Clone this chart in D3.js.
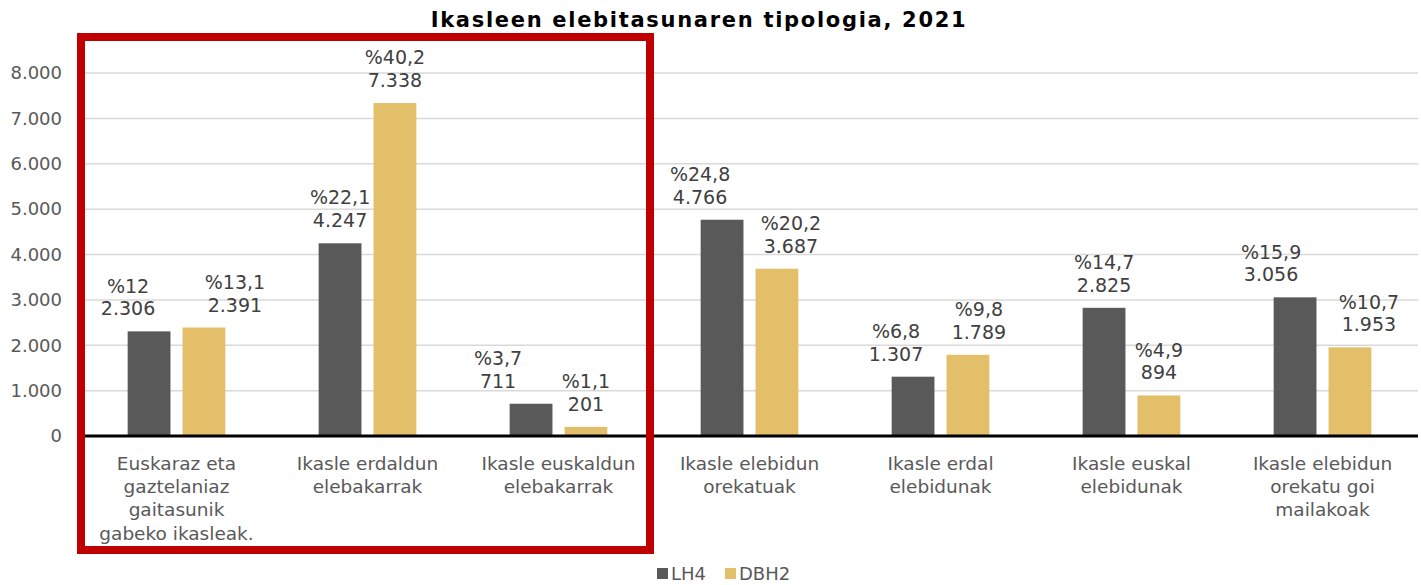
<!DOCTYPE html>
<html>
<head>
<meta charset="utf-8">
<script src="https://cdn.jsdelivr.net/npm/d3@7"></script>
<style>
  body { margin: 0; background: #fff; }
  svg { display: block; font-family: "DejaVu Sans", Verdana, sans-serif; }
</style>
</head>
<body>
<div id="chart"></div>
<script>
var categories = [
  "Euskaraz eta\ngaztelaniaz\ngaitasunik\ngabeko ikasleak.",
  "Ikasle erdaldun\nelebakarrak",
  "Ikasle euskaldun\nelebakarrak",
  "Ikasle elebidun\norekatuak",
  "Ikasle erdal\nelebidunak",
  "Ikasle euskal\nelebidunak",
  "Ikasle elebidun\norekatu goi\nmailakoak"
]
var seriesNames = ["LH4", "DBH2"]
var lh4 = [2306, 4247, 711, 4766, 1307, 2825, 3056]
var dbh2 = [2391, 7338, 201, 3687, 1789, 894, 1953]
var lh4Pct = ["12", "22,1", "3,7", "24,8", "6,8", "14,7", "15,9"]
var dbh2Pct = ["13,1", "40,2", "1,1", "20,2", "9,8", "4,9", "10,7"]
var yTicks = [0, 1000, 2000, 3000, 4000, 5000, 6000, 7000, 8000]

// label nudges (px) as the source chart placed them
var lh4LabelDx = [-21, 0, -33, -22, -17, 0, -24]
var dbh2LabelDx = [31, 0, 0, 14, 11, 0, 19]

var width = 1421, height = 585
var colors = ["#595959", "#E4BF6A"]
var margin = {top: 73, right: 3, bottom: 149, left: 81}

var fmt = function(v){ return d3.format(",")(v).replace(/,/g, ".") }

var svg = d3.select("#chart").append("svg")
  .attr("width", width).attr("height", height)
  .attr("viewBox", [0, 0, width, height])

// title
svg.append("text")
  .attr("x", 699).attr("y", 27)
  .attr("text-anchor", "middle")
  .attr("font-size", 21).attr("font-weight", "bold")
  .attr("letter-spacing", 1.7)
  .attr("fill", "#000")
  .text("Ikasleen elebitasunaren tipologia, 2021")

var x = d3.scaleBand().domain(d3.range(categories.length))
  .range([margin.left, width - margin.right])
var xs = d3.scaleBand().domain([0, 1]).range([0, x.bandwidth()])
  .paddingInner(0.22).paddingOuter(0.85)
var y = d3.scaleLinear().domain([0, 8000]).range([height - margin.bottom, margin.top])

// grid
svg.append("g")
  .selectAll("line")
  .data(yTicks.slice(1))
  .join("line")
    .attr("x1", margin.left + 4).attr("x2", width - margin.right)
    .attr("y1", d => y(d)).attr("y2", d => y(d))
    .attr("stroke", "#D9D9D9").attr("stroke-width", 1.5)

// y axis labels
var yAxis = g => (
  g.attr("transform", "translate(" + 62 + ",0)")
   .call(d3.axisLeft(y).tickValues(yTicks).tickSize(0).tickPadding(0).tickFormat(fmt))
   .call(g => g.select(".domain").remove())
   .call(g => g.selectAll("text")
     .attr("font-size", 18).attr("fill", "#595959")
     .attr("font-family", "DejaVu Sans, Verdana, sans-serif"))
)
svg.append("g").call(yAxis)

var series = [lh4, dbh2]
var pcts = [lh4Pct, dbh2Pct]
var dxs = [lh4LabelDx, dbh2LabelDx]

series.forEach(function(vals, s){
  var g = svg.append("g")
  g.selectAll("rect")
    .data(vals)
    .join("rect")
      .attr("x", (d, i) => x(i) + xs(s))
      .attr("y", d => y(d))
      .attr("width", xs.bandwidth())
      .attr("height", d => y(0) - y(d))
      .attr("fill", colors[s])

  var lbl = g.selectAll("text")
    .data(vals)
    .join("text")
      .attr("text-anchor", "middle")
      .attr("font-size", 19).attr("fill", "#404040")
      .attr("transform", (d, i) => "translate(" + (x(i) + xs(s) + xs.bandwidth()/2 + dxs[s][i]) + "," + (y(d) - 16) + ")")
  lbl.append("tspan").attr("x", 0).attr("dy", "-1.2em").text((d, i) => "%" + pcts[s][i])
  lbl.append("tspan").attr("x", 0).attr("dy", "1.2em").text(d => fmt(d))
})

// baseline
svg.append("line")
  .attr("x1", margin.left + 4).attr("x2", width - margin.right)
  .attr("y1", y(0)).attr("y2", y(0))
  .attr("stroke", "#000").attr("stroke-width", 3)

// category labels
var cat = svg.append("g").selectAll("text")
  .data(categories)
  .join("text")
    .attr("text-anchor", "middle")
    .attr("font-size", 18.5).attr("fill", "#595959")
    .attr("transform", (d, i) => "translate(" + (x(i) + x.bandwidth()/2) + "," + (y(0) + 34) + ")")
cat.selectAll("tspan")
  .data(d => d.split("\n"))
  .join("tspan")
    .attr("x", 0)
    .attr("dy", (d, i) => i ? 23.2 : 0)
    .text(d => d)

// legend
var leg = svg.append("g").attr("transform", "translate(657,567)")
var legX = [0, 68]
seriesNames.forEach(function(n, i){
  leg.append("rect").attr("x", legX[i]).attr("y", 1).attr("width", 11).attr("height", 11).attr("fill", colors[i])
  leg.append("text").attr("x", legX[i] + 14).attr("y", 13)
    .attr("font-size", 18).attr("fill", "#595959").text(n)
})

// red highlight box around first three categories
svg.append("rect")
  .attr("x", 81).attr("y", 37)
  .attr("width", 569).attr("height", 513)
  .attr("fill", "none").attr("stroke", "#C00000").attr("stroke-width", 8)
</script>
</body>
</html>
